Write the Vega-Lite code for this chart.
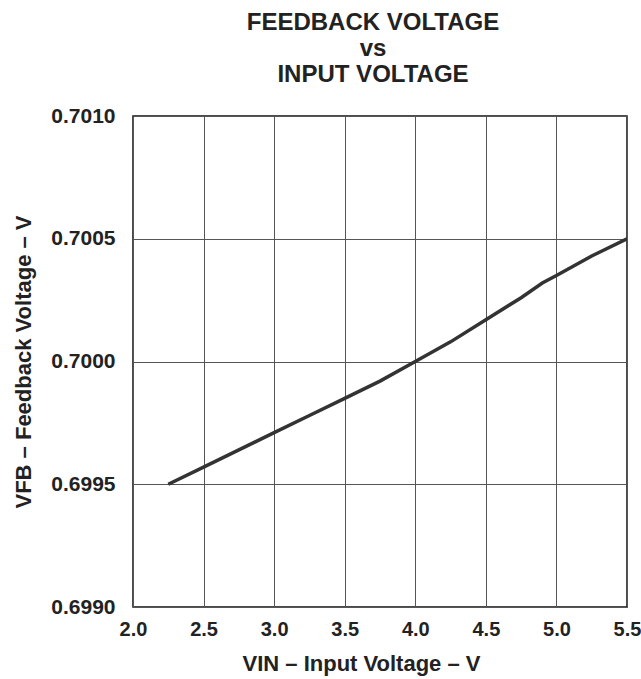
{
  "$schema": "https://vega.github.io/schema/vega-lite/v6.json",
  "width": 494,
  "height": 491,
  "autosize": {"type": "none"},
  "padding": {"left": 133, "top": 116, "right": 14, "bottom": 72},
  "background": "white",
  "title": {
    "text": ["FEEDBACK VOLTAGE", "vs", "INPUT VOLTAGE"],
    "font": "Liberation Sans",
    "fontSize": 24,
    "fontWeight": "bold",
    "lineHeight": 26,
    "anchor": "middle",
    "dx": -7,
    "offset": 18,
    "color": "#222"
  },
  "config": {
    "view": {"stroke": "#111", "strokeWidth": 1.5},
    "axis": {
      "labelFont": "Liberation Sans",
      "labelFontWeight": "bold",
      "labelColor": "#222",
      "titleFont": "Liberation Sans",
      "titleFontWeight": "bold",
      "titleColor": "#222",
      "titleFontSize": 22,
      "ticks": false,
      "tickSize": 0,
      "domain": false,
      "grid": true,
      "gridColor": "#555",
      "gridWidth": 1,
      "gridOpacity": 1
    }
  },
  "data": {
    "values": [
      {"vin": 2.25, "vfb": 0.69950},
      {"vin": 2.5, "vfb": 0.69957},
      {"vin": 2.75, "vfb": 0.69964},
      {"vin": 3.0, "vfb": 0.69971},
      {"vin": 3.25, "vfb": 0.69978},
      {"vin": 3.5, "vfb": 0.69985},
      {"vin": 3.75, "vfb": 0.69992},
      {"vin": 4.0, "vfb": 0.70000},
      {"vin": 4.25, "vfb": 0.70008},
      {"vin": 4.5, "vfb": 0.70017},
      {"vin": 4.75, "vfb": 0.70026},
      {"vin": 4.9, "vfb": 0.70032},
      {"vin": 5.0, "vfb": 0.70035},
      {"vin": 5.25, "vfb": 0.70043},
      {"vin": 5.5, "vfb": 0.70050}
    ]
  },
  "mark": {"type": "line", "color": "#333", "strokeWidth": 3.5, "clip": true},
  "encoding": {
    "x": {
      "field": "vin",
      "type": "quantitative",
      "scale": {"domain": [2, 5.5], "nice": false, "zero": false},
      "axis": {
        "title": "VIN – Input Voltage – V",
        "values": [2, 2.5, 3, 3.5, 4, 4.5, 5, 5.5],
        "format": ".1f",
        "labelFontSize": 20,
        "labelPadding": 12,
        "titlePadding": 14,
        "titleX": 228,
        "labelFlush": false
      }
    },
    "y": {
      "field": "vfb",
      "type": "quantitative",
      "scale": {"domain": [0.699, 0.701], "nice": false, "zero": false},
      "axis": {
        "title": "VFB – Feedback Voltage – V",
        "values": [0.699, 0.6995, 0.7, 0.7005, 0.701],
        "format": ".4f",
        "labelFontSize": 21,
        "labelPadding": 18,
        "titlePadding": 15,
        "labelFlush": false
      }
    }
  }
}
